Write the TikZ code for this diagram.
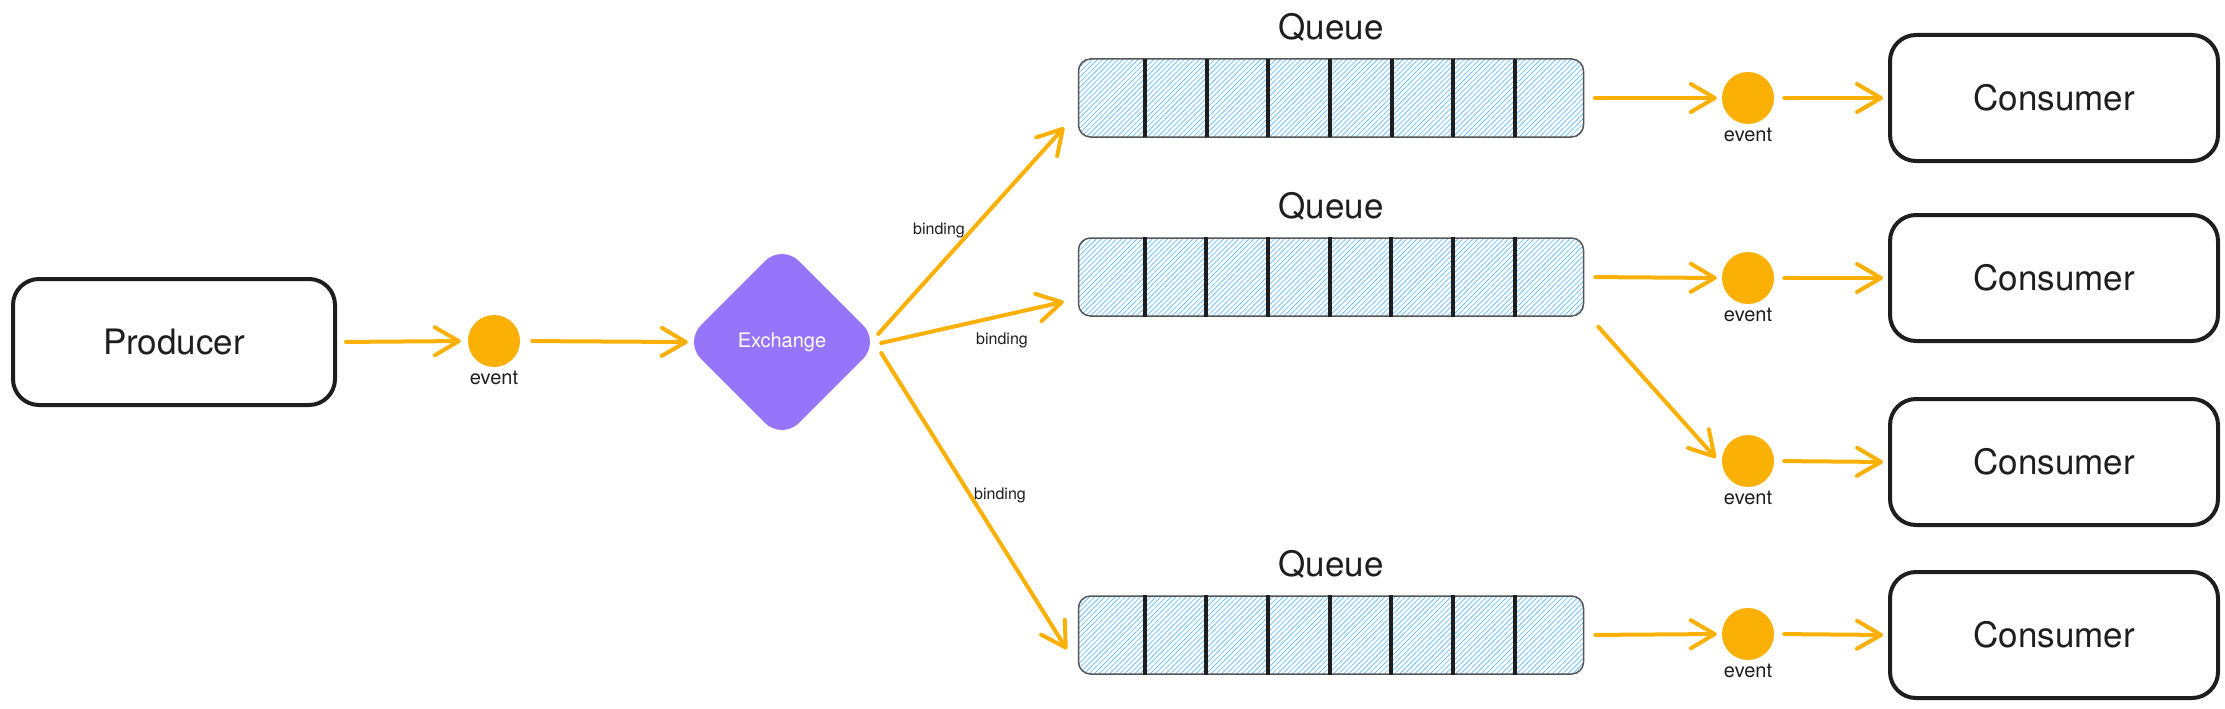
\documentclass[tikz,border=0pt]{standalone}
\usepackage{fontspec}
\setmainfont{TeX Gyre Heros}
\usetikzlibrary{arrows.meta,shapes.geometric,patterns.meta,calc}
\definecolor{evorange}{HTML}{FAB005}
\definecolor{exviolet}{HTML}{9775FA}
\definecolor{hatchblue}{HTML}{74C0FC}
\definecolor{ink}{HTML}{1E1E1E}
\begin{document}
\begin{tikzpicture}[x=1pt,y=-1pt,
  box/.style={draw=ink, line width=4pt, rounded corners=26pt, minimum width=328pt,
    minimum height=126pt, font=\fontsize{35}{42}\selectfont, text=ink},
  ev/.style={circle, fill=evorange, minimum size=52pt, inner sep=0pt, label distance=7pt,
    label={[font=\fontsize{20}{24}\selectfont, text=ink]below:event}},
  conn/.style={draw=evorange, line width=4pt, line cap=round,
    -{Straight Barb[length=24pt,width=28pt,line cap=round,line join=round]}},
  qbox/.style={draw=ink!75, line width=1.5pt, rounded corners=12pt, minimum width=505pt,
    minimum height=78pt, inner sep=0pt,
    pattern={Lines[angle=45,distance=3.6pt,line width=0.8pt]}, pattern color=hatchblue},
  qtitle/.style={font=\fontsize{35}{42}\selectfont, text=ink},
  divider/.style={draw=ink, line width=4pt},
  bind/.style={font=\fontsize{16}{19}\selectfont, text=ink},
  exch/.style={diamond, aspect=1, fill=exviolet, minimum width=196pt, minimum height=196pt,
    rounded corners=24pt, inner sep=0pt, text=white, font=\fontsize{20}{24}\selectfont}
]
\useasboundingbox (0,0) rectangle (2225,709);

% producer side
\node[box, minimum width=322pt] (prod) at (174,342) {Producer};
\node[ev] (e0) at (494,341) {};
\node[exch] (ex) at (782,342) {Exchange};

% queues
\node[qbox] (q1) at (1331,98) {};
\node[qbox] (q2) at (1331,277) {};
\node[qbox] (q3) at (1331,635) {};
\foreach \q in {q1,q2,q3}{
  \foreach \k in {0,...,6}{
    \draw[divider] ($(\q.north west)+({67+61.67*\k},0)$) -- ($(\q.south west)+({67+61.67*\k},0)$);
  }
}
\node[qtitle] (t1) at ($(q1.north)+(0,-31)$) {Queue};
\node[qtitle] (t2) at ($(q2.north)+(0,-31)$) {Queue};
\node[qtitle] (t3) at ($(q3.north)+(0,-31)$) {Queue};

% events right
\node[ev] (e1) at (1748,98) {};
\node[ev] (e2) at (1748,278) {};
\node[ev] (e3) at (1748,461) {};
\node[ev] (e4) at (1748,634) {};

% consumers
\node[box] (c1) at (2054,98) {Consumer};
\node[box] (c2) at (2054,278) {Consumer};
\node[box] (c3) at (2054,462) {Consumer};
\node[box] (c4) at (2054,635) {Consumer};

% binding labels
\node[bind] (b1) at (939,230) {binding};
\node[bind] (b2) at (1002,340) {binding};
\node[bind] (b3) at (1000,495) {binding};

% connectors
\draw[conn, shorten <=9pt, shorten >=7pt] (prod.east) -- (e0.west);
\draw[conn, shorten <=12pt, shorten >=-4pt] (e0.east) -- (ex.west);
\draw[conn] ($(ex.east)+(-2,-8)$) -- ($(q1.south west)+(-14,-10)$);
\draw[conn] ($(ex.east)+(1,1)$) -- ($(q2.south west)+(-14,-15)$);
\draw[conn] ($(ex.east)+(1,11)$) -- ($(q3.north west)+(-11,54)$);

\draw[conn, shorten <=11pt, shorten >=5pt] (q1.east) -- (e1.west);
\draw[conn, shorten <=11pt, shorten >=5pt] (q2.east) -- (e2.west);
\draw[conn, shorten <=11pt, shorten >=5pt] (q3.east) -- (e4.west);
\draw[conn] ($(q2.south east)+(14,10)$) -- ($(e3.west)+(-6,-3)$);

\draw[conn, shorten <=10pt, shorten >=5pt] (e1.east) -- (c1.west);
\draw[conn, shorten <=10pt, shorten >=5pt] (e2.east) -- (c2.west);
\draw[conn, shorten <=10pt, shorten >=5pt] (e3.east) -- (c3.west);
\draw[conn, shorten <=10pt, shorten >=5pt] (e4.east) -- (c4.west);
\end{tikzpicture}
\end{document}
